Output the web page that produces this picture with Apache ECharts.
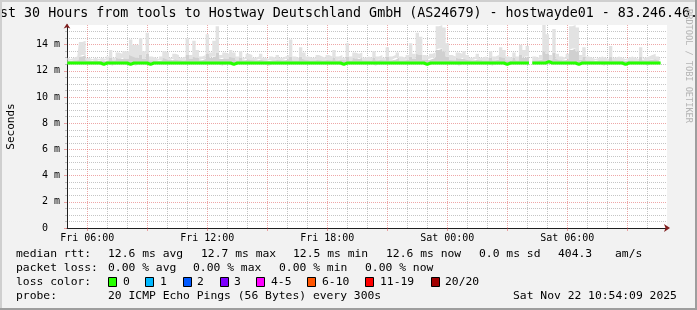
<!DOCTYPE html>
<html><head><meta charset="utf-8">
<script src="https://cdn.jsdelivr.net/npm/echarts@6/dist/echarts.min.js"></script>
<style>html,body{margin:0;padding:0;background:#f2f2f2}#c{width:697px;height:310px}</style>
</head><body><div id="c"></div><script>
// ---------------- data ----------------
const TITLE = 'st 30 Hours from tools to Hostway Deutschland GmbH (AS24679) - hostwayde01 - 83.246.46.';
const DAY0 = Date.UTC(2025, 10, 21, 0, 0, 0); // Fri 21 Nov 2025 00:00
const START_HOUR = 5.0;          // first sample, hours since Fri 00:00
const STEP_HOUR = 1 / 6;         // 10 minute samples
const AXIS_MIN = 4.985, AXIS_MAX = 34.985; // 30 hours shown
const Y_MAX = 15.5;

const xTickValues = [6, 12, 18, 24, 30];
const xTickLabels = ['Fri 06:00', 'Fri 12:00', 'Fri 18:00', 'Sat 00:00', 'Sat 06:00'];
const xMajorGrid = [6, 9, 12, 15, 18, 21, 24, 27, 30, 33];
const xMinorGrid = [5, 7, 8, 10, 11, 13, 14, 16, 17, 19, 20, 22, 23, 25, 26, 28, 29, 31, 32, 34];
const yTickValues = [0, 2, 4, 6, 8, 10, 12, 14];
const yTickLabels = ['0', '2 m', '4 m', '6 m', '8 m', '10 m', '12 m', '14 m'];
const yMinorGrid = [0.5, 1, 1.5, 2.5, 3, 3.5, 4.5, 5, 5.5, 6.5, 7, 7.5, 8.5, 9, 9.5, 10.5, 11, 11.5, 12.5, 13, 13.5, 14.5, 15];

// median rtt (ms)
const medianRtt = [
12.6,12.6,12.6,12.6,12.6,12.6,12.6,12.6,12.6,12.6,
12.6,12.5,12.6,12.6,12.6,12.6,12.6,12.6,12.6,12.5,
12.6,12.6,12.6,12.6,12.6,12.5,12.6,12.6,12.6,12.6,
12.6,12.6,12.6,12.6,12.6,12.6,12.6,12.6,12.6,12.6,
12.6,12.6,12.6,12.6,12.6,12.6,12.6,12.6,12.6,12.6,
12.5,12.6,12.6,12.6,12.6,12.6,12.6,12.6,12.6,12.6,
12.6,12.6,12.6,12.6,12.6,12.6,12.6,12.6,12.6,12.6,
12.6,12.6,12.6,12.6,12.6,12.6,12.6,12.6,12.6,12.6,
12.6,12.6,12.6,12.5,12.6,12.6,12.6,12.6,12.6,12.6,
12.6,12.6,12.6,12.6,12.6,12.6,12.6,12.6,12.6,12.6,
12.6,12.6,12.6,12.6,12.6,12.6,12.6,12.6,12.5,12.6,
12.6,12.6,12.6,12.6,12.6,12.6,12.6,12.6,12.6,12.6,
12.6,12.6,12.6,12.6,12.6,12.6,12.6,12.6,12.6,12.6,
12.6,12.6,12.5,12.6,12.6,12.6,12.6,12.6,12.6,null,
12.6,12.6,12.6,12.6,12.7,12.6,12.6,12.6,12.6,12.6,
12.6,12.6,12.6,12.5,12.6,12.6,12.6,12.6,12.6,12.6,
12.6,12.6,12.6,12.6,12.6,12.6,12.6,12.5,12.6,12.6,
12.6,12.6,12.6,12.6,12.6,12.6,12.6,12.6,12.6
];
// lowest ping of each sample (ms)
const smokeLow = [
12.5,12.5,12.5,12.5,12.5,12.5,12.5,12.5,12.5,12.5,
12.5,12.4,12.5,12.5,12.4,12.5,12.5,12.5,12.5,12.4,
12.5,12.4,12.5,12.5,12.5,12.4,12.5,12.5,12.5,12.5,
12.5,12.5,12.5,12.5,12.5,12.5,12.5,12.5,12.5,12.5,
12.5,12.5,12.5,12.5,12.5,12.5,12.5,12.4,12.5,12.5,
12.4,12.5,12.5,12.5,12.5,12.5,12.5,12.5,12.5,12.5,
12.5,12.4,12.5,12.5,12.5,12.5,12.5,12.5,12.5,12.5,
12.5,12.5,12.5,12.5,12.5,12.5,12.5,12.5,12.5,12.5,
12.5,12.5,12.5,12.4,12.5,12.5,12.5,12.5,12.5,12.5,
12.5,12.5,12.5,12.4,12.5,12.5,12.5,12.5,12.5,12.5,
12.5,12.5,12.5,12.5,12.5,12.5,12.5,12.5,12.4,12.5,
12.5,12.5,12.5,12.5,12.5,12.5,12.5,12.5,12.4,12.5,
12.5,12.5,12.5,12.5,12.5,12.5,12.5,12.5,12.4,12.5,
12.5,12.5,12.4,12.5,12.5,12.5,12.5,12.5,12.5,null,
12.5,12.5,12.5,12.5,12.5,12.5,12.5,12.5,12.5,12.5,
12.5,12.5,12.5,12.4,12.5,12.5,12.5,12.5,12.5,12.5,
12.5,12.4,12.5,12.5,12.5,12.5,12.5,12.4,12.5,12.5,
12.5,12.5,12.5,12.5,12.4,12.5,12.5,12.5,12.5
];
// upper edge of the dense (darker) smoke (ms)
const smokeMid = [
12.8,12.75,12.8,12.8,13.1,13.2,12.8,12.75,12.8,12.75,
12.8,12.75,12.8,13.0,12.8,13.0,12.9,13.0,12.9,13.2,
13.1,13.0,13.2,12.9,13.3,12.8,12.8,12.75,12.8,13.0,
12.9,12.8,12.9,12.85,12.8,12.8,13.2,12.9,13.1,13.0,
12.8,12.9,13.3,13.0,13.1,13.4,12.9,13.0,12.9,13.1,
13.0,12.8,13.0,12.8,12.9,12.85,12.8,12.8,12.9,12.8,
12.75,12.8,12.8,12.85,12.8,12.8,12.9,13.1,12.8,12.8,
13.1,12.9,12.8,12.8,12.8,12.85,12.8,12.8,12.85,12.8,
13.0,12.8,12.85,12.8,13.1,12.8,13.0,12.9,13.0,12.8,
12.8,12.8,13.0,12.8,12.85,12.8,13.1,12.8,12.85,13.0,
12.8,12.8,12.85,13.1,12.9,13.3,13.2,12.85,12.8,12.9,
13.0,13.6,13.7,13.5,13.1,12.85,12.8,13.0,12.9,13.0,
12.85,12.8,12.8,12.9,12.8,12.8,12.8,13.0,12.8,12.85,
13.1,13.0,12.8,12.8,13.0,12.8,13.2,13.0,13.1,null,
12.8,12.8,12.85,13.5,13.3,12.85,13.4,12.9,12.8,12.8,
12.9,13.6,13.7,13.5,12.85,13.1,12.8,12.8,12.75,12.8,
12.8,12.8,12.75,13.1,12.8,12.8,12.8,12.75,12.8,12.8,
12.8,12.75,13.1,12.8,12.8,12.85,12.9,12.8,12.8
];
// highest ping of each sample (ms)
const smokeMax = [
13.0,12.9,13.0,13.1,14.2,14.3,13.0,12.9,13.0,12.9,
13.0,12.9,13.1,13.6,13.0,13.4,13.3,13.5,13.5,14.4,
14.0,14.0,14.5,13.5,14.9,13.1,13.0,12.9,13.1,13.5,
13.4,13.0,13.3,13.2,13.0,13.1,14.5,13.2,14.3,13.6,
13.1,13.2,14.8,13.4,14.3,15.4,13.2,13.4,13.3,13.6,
13.4,13.1,13.5,13.0,13.3,13.2,13.0,13.1,13.3,13.0,
12.9,13.1,13.0,13.2,13.0,13.1,13.2,14.4,13.1,13.0,
13.8,13.4,13.1,13.0,13.0,13.2,13.1,13.0,13.2,13.1,
13.6,13.1,13.2,13.0,14.1,13.1,13.4,13.3,13.4,13.0,
13.1,13.0,13.5,13.1,13.2,13.0,13.8,13.1,13.2,13.4,
13.1,13.0,13.2,14.1,13.3,14.9,14.6,13.2,13.1,13.3,
13.4,15.4,15.5,15.3,14.1,13.2,13.1,13.4,13.3,13.5,
13.2,13.0,13.1,13.3,13.0,13.1,13.0,13.5,13.1,13.2,
13.8,13.6,13.1,13.0,13.4,13.1,14.0,13.6,13.9,null,
13.1,13.0,13.2,15.5,14.8,13.2,15.2,13.3,13.1,13.0,
13.3,15.4,15.5,15.3,13.2,13.8,13.1,13.0,12.9,13.0,
13.1,13.0,12.9,13.9,13.0,13.1,13.0,12.9,13.0,13.1,
13.0,12.9,13.8,13.0,13.1,13.2,13.3,13.1,13.0
];

const rttStats = ['12.6 ms avg', '12.7 ms max', '12.5 ms min', '12.6 ms now', '0.0 ms sd', '404.3', 'am/s'];
const lossStats = ['0.00 % avg', '0.00 % max', '0.00 % min', '0.00 % now'];
const lossLabels = ['0', '1', '2', '3', '4-5', '6-10', '11-19', '20/20'];
const probeText = '20 ICMP Echo Pings (56 Bytes) every 300s';
const stampText = 'Sat Nov 22 10:54:09 2025';
const rowLabels = ['median rtt:', 'packet loss:', 'loss color:', 'probe:'];

// ---------------- styles / layout ----------------
const lossColors = ['#26ff00', '#00b8ff', '#0059ff', '#7e00ff', '#ff00ff', '#ff5500', '#ff0000', '#a10000'];
const MONO = '"DejaVu Sans Mono", monospace';
const rowY = [254, 268, 282, 296];
const rttX = [108, 201, 293, 386, 479, 558, 615];
const lossX = [108, 193, 279, 365];
const boxX = [108, 145, 183, 220, 256, 307, 365, 431];
const boxLabelX = [123, 160, 197, 234, 271, 322, 380, 445];
const GRID = { left: 67, top: 25, width: 600, height: 203 };
const GRID_MINOR = 'rgba(150,150,150,0.55)';
const GRID_MAJOR = 'rgba(222,79,79,0.5)';

// ---------------- build ----------------
const H = 3600000;
const toT = h => DAY0 + h * H;
const xs = smokeMax.map((_, i) => toT(START_HOUR + i * STEP_HOUR));
const pair = arr => arr.map((v, i) => [xs[i], v]);
const diff = (a, b) => a.map((v, i) => (v == null || b[i] == null) ? [xs[i], null] : [xs[i], +(v - b[i]).toFixed(3)]);

function txt(text, x, y, size, extra) {
  return Object.assign({ type: 'text', x: x, y: y, silent: true,
    style: { text: text, font: size + 'px ' + MONO, fill: '#000',
      align: 'left', verticalAlign: 'middle', textAlign: 'left', textVerticalAlign: 'middle' } }, extra || {});
}
const graphics = [];
graphics.push(txt(TITLE, 0, 14, 13.33));
graphics.push({ type: 'text', x: 688, y: 66, rotation: -Math.PI / 2, silent: true,
  style: { text: 'RRDTOOL / TOBI OETIKER', font: '8.6px ' + MONO, fill: '#b4b4b4',
    align: 'center', verticalAlign: 'middle', textAlign: 'center', textVerticalAlign: 'middle' } });
rowLabels.forEach((t, i) => graphics.push(txt(t, 16, rowY[i], 11.35)));
rttStats.forEach((t, i) => graphics.push(txt(t, rttX[i], rowY[0], 11.35)));
lossStats.forEach((t, i) => graphics.push(txt(t, lossX[i], rowY[1], 11.35)));
lossLabels.forEach((t, i) => {
  graphics.push({ type: 'rect', silent: true, shape: { x: boxX[i] + 0.5, y: rowY[2] - 4.5, width: 8, height: 9 },
    style: { fill: lossColors[i], stroke: '#000', lineWidth: 1 } });
  graphics.push(txt(t, boxLabelX[i], rowY[2], 11.35));
});
graphics.push(txt(probeText, 108, rowY[3], 11.35));
graphics.push(txt(stampText, 513, rowY[3], 11.35));
graphics.push({ type: 'rect', silent: true, shape: { x: 0, y: 0, width: 697, height: 2 }, style: { fill: '#cfcfcf' } });
graphics.push({ type: 'rect', silent: true, shape: { x: 0, y: 0, width: 2, height: 310 }, style: { fill: '#cfcfcf' } });
graphics.push({ type: 'rect', silent: true, shape: { x: 0, y: 308, width: 697, height: 2 }, style: { fill: '#9e9e9e' } });
graphics.push({ type: 'rect', silent: true, shape: { x: 695, y: 0, width: 2, height: 310 }, style: { fill: '#9e9e9e' } });

const gridBase = Object.assign({ outerBoundsMode: 'none', containLabel: false, borderWidth: 0 }, GRID);
const hidden = { show: false };
const axisFont = { fontFamily: MONO, fontSize: 10, color: '#000' };

const chart = echarts.init(document.getElementById('c'), null, { renderer: 'canvas' });
chart.setOption({
  animation: false,
  backgroundColor: '#f2f2f2',
  grid: [
    Object.assign({}, gridBase, { show: true, backgroundColor: '#ffffff' }),
    Object.assign({}, gridBase),
    Object.assign({}, gridBase)
  ],
  xAxis: [
    { type: 'time', gridIndex: 0, min: toT(AXIS_MIN), max: toT(AXIS_MAX), position: 'bottom',
      axisLine: { show: true, onZero: false, lineStyle: { color: '#1f1f1f', width: 1 } },
      axisTick: hidden, axisLabel: hidden, splitLine: hidden, minorTick: hidden, minorSplitLine: hidden },
    { type: 'value', gridIndex: 1, min: AXIS_MIN, max: AXIS_MAX, position: 'bottom',
      axisLine: hidden, axisLabel: hidden,
      axisTick: { show: false, customValues: xMinorGrid },
      splitLine: { show: true, lineStyle: { color: GRID_MINOR, type: [1, 1], width: 1 } } },
    { type: 'value', gridIndex: 2, min: AXIS_MIN, max: AXIS_MAX, position: 'bottom',
      axisLine: { show: true, onZero: false, symbol: ['none', 'arrow'], symbolSize: [6, 6], symbolOffset: [0, 3],
        lineStyle: { color: '#801f1f', width: 0 } },
      axisTick: { show: true, length: 3, customValues: xMajorGrid, lineStyle: { color: GRID_MAJOR, width: 1 } },
      axisLabel: Object.assign({ show: true, margin: 5, customValues: xTickValues,
        formatter: v => { const k = xTickValues.indexOf(Math.round(v)); return k >= 0 ? xTickLabels[k] : ''; } }, axisFont),
      splitLine: { show: true, lineStyle: { color: GRID_MAJOR, type: [1, 1], width: 1 } } }
  ],
  yAxis: [
    { type: 'value', gridIndex: 0, min: 0, max: Y_MAX, position: 'left',
      name: 'Seconds', nameLocation: 'middle', nameGap: 50,
      nameTextStyle: { fontFamily: MONO, fontSize: 11, color: '#000' },
      axisLine: { show: true, onZero: false, lineStyle: { color: '#1f1f1f', width: 1 } },
      axisTick: { show: true, length: 3, customValues: yTickValues, lineStyle: { color: GRID_MAJOR } },
      axisLabel: Object.assign({ show: true, margin: 7, customValues: yTickValues,
        formatter: v => { const k = yTickValues.indexOf(Math.round(v)); if (k < 0) return ''; const s = yTickLabels[k]; return s.indexOf(' ') >= 0 ? s : s + '  '; } }, axisFont),
      splitLine: { show: true, lineStyle: { color: GRID_MAJOR, type: [1, 1], width: 1 } } },
    { type: 'value', gridIndex: 1, min: 0, max: Y_MAX, position: 'left',
      axisLine: hidden, axisLabel: hidden,
      axisTick: { show: true, length: 2, customValues: yMinorGrid, lineStyle: { color: GRID_MINOR } },
      splitLine: { show: true, lineStyle: { color: GRID_MINOR, type: [1, 1], width: 1 } } },
    { type: 'value', gridIndex: 2, min: 0, max: Y_MAX, position: 'left',
      axisLine: { show: true, onZero: false, symbol: ['none', 'arrow'], symbolSize: [5, 5], symbolOffset: [0, 1.5],
        lineStyle: { color: '#801f1f', width: 0 } },
      axisTick: hidden, axisLabel: hidden, splitLine: hidden }
  ],
  series: [
    { type: 'line', name: 'low', xAxisIndex: 0, yAxisIndex: 0, stack: 'smoke', step: 'middle',
      data: pair(smokeLow), showSymbol: false, symbol: 'none', lineStyle: { width: 0, opacity: 0 }, silent: true, z: 2 },
    { type: 'line', name: 'dense', xAxisIndex: 0, yAxisIndex: 0, stack: 'smoke', step: 'middle',
      data: diff(smokeMid, smokeLow), showSymbol: false, symbol: 'none', lineStyle: { width: 0, opacity: 0 },
      areaStyle: { color: '#d0d0d0', opacity: 1 }, silent: true, z: 2 },
    { type: 'line', name: 'sparse', xAxisIndex: 0, yAxisIndex: 0, stack: 'smoke', step: 'middle',
      data: diff(smokeMax, smokeMid), showSymbol: false, symbol: 'none', lineStyle: { width: 0, opacity: 0 },
      areaStyle: { color: '#e2e2e2', opacity: 1 }, silent: true, z: 2 },
    { type: 'line', name: 'median', xAxisIndex: 0, yAxisIndex: 0, step: 'middle',
      data: pair(medianRtt), showSymbol: false, symbol: 'none', connectNulls: false,
      lineStyle: { color: lossColors[0], width: 3 }, silent: true, z: 3 }
  ],
  graphic: graphics
});
</script></body></html>
